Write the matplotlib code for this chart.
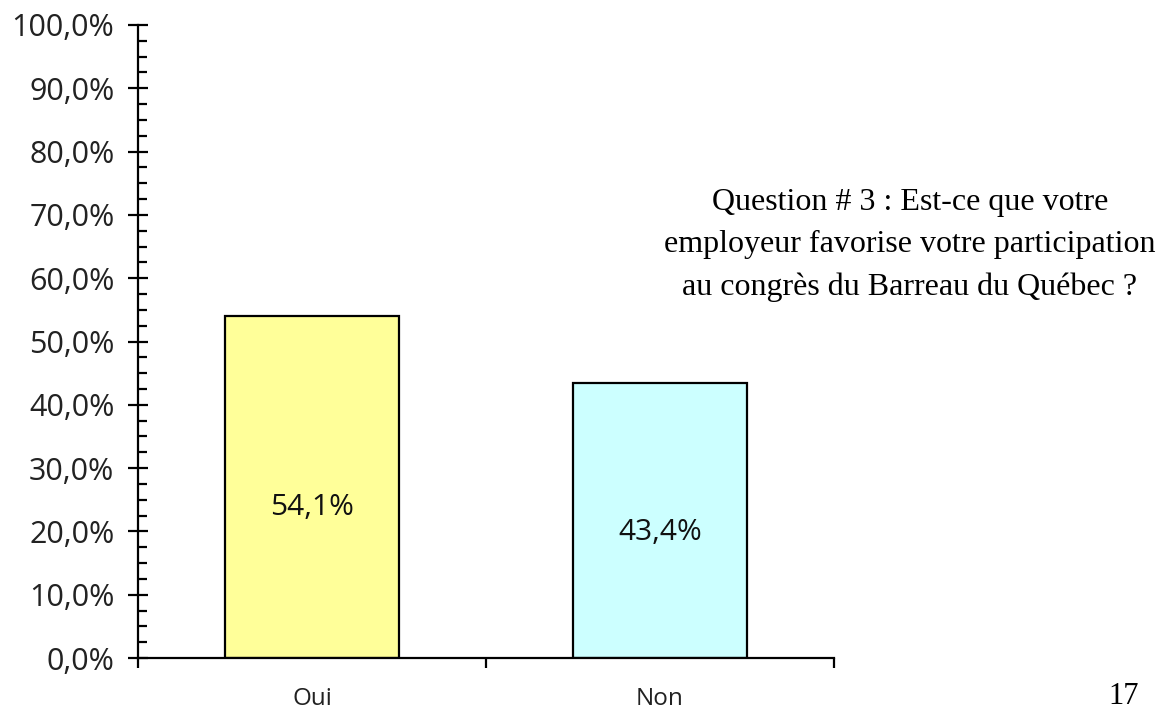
import matplotlib
matplotlib.use('Agg')
import matplotlib.pyplot as plt
from matplotlib.ticker import MultipleLocator, FixedLocator

categories = ['Oui', 'Non']
values = [54.1, 43.4]
bar_colors = ['#FFFF99', '#CCFFFF']
label_y = [23.7, 19.9]  # where the value labels sit inside the bars
question = 'Question # 3 : Est-ce que votre\nemployeur favorise votre participation\nau congrès du Barreau du Québec ?'
page_number = '17'

W, H = 1169, 709
fig = plt.figure(figsize=(W / 100, H / 100), dpi=100)
ax = fig.add_axes([138 / W, (H - 658) / H, 696 / W, 633 / H])

x = range(len(categories))
ax.bar(x, values, width=0.5, color=bar_colors, edgecolor='black', linewidth=1.6, zorder=2)

for i, v in enumerate(values):
    ax.text(i, label_y[i], f'{v:.1f}%'.replace('.', ','), ha='center', va='center',
            fontsize=21.5, family='Open Sans', color='#111111', zorder=3)

ax.set_xlim(-0.5, 1.5)
ax.set_ylim(0, 100)

ax.spines['top'].set_visible(False)
ax.spines['right'].set_visible(False)
ax.spines['left'].set_linewidth(1.6)
ax.spines['bottom'].set_linewidth(1.6)

ax.yaxis.set_major_locator(MultipleLocator(10))
ax.yaxis.set_minor_locator(MultipleLocator(2.5))
ax.set_yticklabels([f'{t:.1f}%'.replace('.', ',') for t in ax.get_yticks()],
                   family='Open Sans', fontsize=22, color='#222222')
ax.tick_params(axis='y', which='major', direction='inout', length=14, width=1.6, pad=10)
ax.tick_params(axis='y', which='minor', direction='in', length=6.5, width=1.6)

ax.xaxis.set_major_locator(FixedLocator([-0.5, 0.5, 1.5]))
ax.xaxis.set_minor_locator(FixedLocator(list(x)))
ax.set_xticklabels(['', '', ''])
ax.set_xticklabels(categories, minor=True, family='Open Sans', fontsize=17.5, color='#222222')
ax.tick_params(axis='x', which='major', direction='out', length=7.5, width=1.6)
ax.tick_params(axis='x', which='minor', length=0, pad=21)

fig.text(910 / W, 1 - 245 / H, question, ha='center', va='center',
         family='Liberation Serif', fontsize=23, linespacing=1.6)
fig.text(1124 / W, 1 - 696 / H, page_number, ha='center', va='center',
         family='Liberation Serif', fontsize=22)

fig.savefig('out.png', dpi=100)
